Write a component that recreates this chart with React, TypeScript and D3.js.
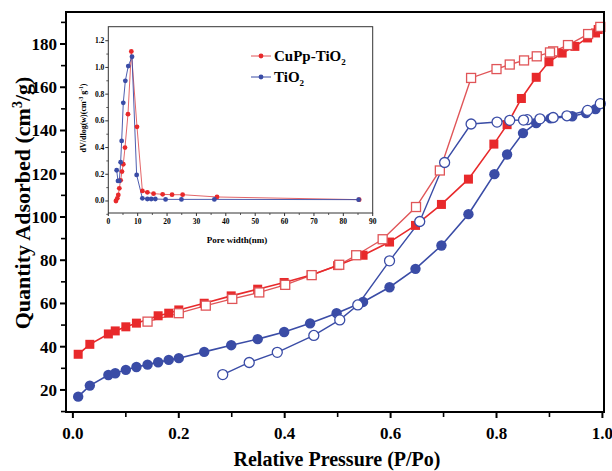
import React from 'react';
import * as d3 from 'd3';

// main isotherm data (P/Po, cm3/g)
const cuAdsX = [0.010, 0.032, 0.067, 0.080, 0.100, 0.120, 0.161, 0.181, 0.200, 0.248, 0.299, 0.349, 0.399, 0.450, 0.500, 0.548, 0.598, 0.647, 0.696, 0.747, 0.795, 0.820, 0.847, 0.875, 0.899, 0.924, 0.948, 0.972, 0.987, 0.992];
const cuAdsY = [36.5, 41.1, 45.9, 47.3, 49.2, 50.9, 54.3, 55.5, 57.0, 60.1, 63.5, 66.6, 69.7, 73.2, 77.5, 82.3, 88.4, 96.1, 105.8, 117.5, 133.7, 142.7, 154.8, 164.6, 171.8, 175.8, 178.9, 182.8, 185.1, 186.7];
const cuDesX = [0.996, 0.973, 0.935, 0.907, 0.901, 0.876, 0.852, 0.825, 0.800, 0.752, 0.693, 0.648, 0.585, 0.535, 0.503, 0.451, 0.401, 0.352, 0.301, 0.251, 0.200, 0.141];
const cuDesY = [187.9, 184.6, 179.5, 176.6, 176.1, 174.3, 172.4, 170.5, 168.4, 164.3, 121.5, 104.6, 89.7, 82.3, 77.9, 73.1, 68.6, 65.1, 62.1, 59.0, 55.5, 51.6];
const tiAdsX = [0.010, 0.032, 0.067, 0.080, 0.100, 0.120, 0.141, 0.161, 0.181, 0.200, 0.248, 0.299, 0.349, 0.399, 0.448, 0.498, 0.548, 0.598, 0.647, 0.696, 0.747, 0.796, 0.820, 0.850, 0.875, 0.902, 0.943, 0.969, 0.987];
const tiAdsY = [16.9, 22.0, 26.9, 27.7, 29.3, 30.6, 31.7, 32.8, 33.9, 34.7, 37.6, 40.7, 43.5, 46.8, 50.8, 55.5, 60.7, 67.5, 76.0, 86.8, 101.3, 119.8, 128.9, 138.8, 143.4, 145.6, 146.6, 148.1, 149.9];
const tiDesX = [0.996, 0.972, 0.933, 0.907, 0.882, 0.858, 0.851, 0.825, 0.801, 0.752, 0.702, 0.655, 0.598, 0.538, 0.504, 0.455, 0.386, 0.333, 0.283];
const tiDesY = [152.4, 149.3, 146.8, 146.0, 145.4, 145.0, 144.8, 144.7, 143.9, 143.0, 125.2, 97.9, 79.7, 59.3, 52.4, 45.2, 37.4, 32.7, 27.1];

// inset pore size distribution (nm, dV/dlog(w))
const cuPoreX = [2.6, 3.07, 3.4, 3.75, 4.2, 4.66, 5.1, 5.68, 6.7, 7.84, 9.77, 11.6, 13.3, 15.4, 18.5, 21.7, 25.3, 37.0, 85.4];
const cuPoreY = [0.0, 0.02, 0.045, 0.095, 0.155, 0.22, 0.275, 0.40, 0.65, 1.12, 0.555, 0.075, 0.065, 0.055, 0.05, 0.047, 0.047, 0.03, 0.01];
const tiPoreX = [2.85, 3.3, 3.75, 4.2, 4.55, 5.1, 5.8, 6.8, 8.07, 9.65, 11.6, 13.3, 14.6, 16.0, 19.5, 24.9, 36.1, 85.2];
const tiPoreY = [0.23, 0.15, 0.15, 0.29, 0.45, 0.735, 0.90, 1.01, 1.08, 0.195, 0.02, 0.015, 0.015, 0.015, 0.012, 0.012, 0.012, 0.01];

const xTicks = [0, 0.2, 0.4, 0.6, 0.8, 1.0];
const xMinor = [0.1, 0.3, 0.5, 0.7, 0.9];
const yTicks = [20, 40, 60, 80, 100, 120, 140, 160, 180];
const yMinor = [10, 30, 50, 70, 90, 110, 130, 150, 170, 190];
const inXTicks = [0, 10, 20, 30, 40, 50, 60, 70, 80, 90];
const inXMinor = [5, 15, 25, 35, 45, 55, 65, 75, 85];
const inYTicks = [0, 0.2, 0.4, 0.6, 0.8, 1.0, 1.2];
const inYMinor = [-0.1, 0.1, 0.3, 0.5, 0.7, 0.9, 1.1];

const RED = '#e8292b';
const RED_OPEN = '#e05558';
const BLUE = '#3a4ca6';
const FONT = '"Liberation Serif", "Times New Roman", serif';

const zip = (xs: number[], ys: number[]) => xs.map((x, i) => [x, ys[i]] as [number, number]);

export default function App() {
  const L = 66, R = 604, T = 12, B = 412;
  const x = d3.scaleLinear().domain([-0.013, 1.003]).range([L, R]);
  const y = d3.scaleLinear().domain([9.8, 194.8]).range([B, T]);
  const line = d3.line<[number, number]>().x(d => x(d[0])).y(d => y(d[1]));

  const iL = 108.3, iR = 372.7, iT = 26.7, iB = 213;
  const ix = d3.scaleLinear().domain([0, 90]).range([iL, iR]);
  const iy = d3.scaleLinear().domain([-0.09, 1.305]).range([iB, iT]);
  const iline = d3.line<[number, number]>().x(d => ix(d[0])).y(d => iy(d[1]));

  const cuAds = zip(cuAdsX, cuAdsY);
  const cuDes = zip(cuDesX, cuDesY);
  const tiAds = zip(tiAdsX, tiAdsY);
  const tiDes = zip(tiDesX, tiDesY);
  const cuPore = zip(cuPoreX, cuPoreY);
  const tiPore = zip(tiPoreX, tiPoreY);
  const s = 9;

  return (
    <svg width={612} height={471} style={{ position: 'absolute', left: 0, top: 0, background: '#fff' }} fontFamily={FONT}>
      <rect x={0} y={0} width={612} height={471} fill="#fff" />

      {/* lines */}
      <path d={line(cuDes) || ''} fill="none" stroke={RED_OPEN} strokeWidth={1.4} />
      <path d={line(cuAds) || ''} fill="none" stroke={RED} strokeWidth={1.6} />
      <path d={line(tiDes) || ''} fill="none" stroke={BLUE} strokeWidth={1.4} />
      <path d={line(tiAds) || ''} fill="none" stroke={BLUE} strokeWidth={1.6} />

      {/* markers */}
      {cuAds.map((d, i) => (
        <rect key={'ca' + i} x={x(d[0]) - s / 2} y={y(d[1]) - s / 2} width={s} height={s} fill={RED} />
      ))}
      {cuDes.map((d, i) => (
        <rect key={'cd' + i} x={x(d[0]) - s / 2} y={y(d[1]) - s / 2} width={s} height={s} fill="#fff" stroke={RED_OPEN} strokeWidth={1.3} />
      ))}
      {tiAds.map((d, i) => (
        <circle key={'ta' + i} cx={x(d[0])} cy={y(d[1])} r={5.2} fill={BLUE} />
      ))}
      {tiDes.map((d, i) => (
        <circle key={'td' + i} cx={x(d[0])} cy={y(d[1])} r={5} fill="#fff" stroke={BLUE} strokeWidth={1.3} />
      ))}

      {/* main frame */}
      <rect x={L} y={T} width={R - L} height={B - T} fill="none" stroke="#000" strokeWidth={2} />
      {xTicks.map(t => (
        <g key={'xt' + t}>
          <line x1={x(t)} x2={x(t)} y1={B} y2={B + 6} stroke="#000" strokeWidth={2} />
          <text x={x(t)} y={B + 27} textAnchor="middle" fontSize={17} fontWeight="bold">{t.toFixed(1)}</text>
        </g>
      ))}
      {xMinor.map(t => (
        <line key={'xm' + t} x1={x(t)} x2={x(t)} y1={B} y2={B + 5} stroke="#000" strokeWidth={1.6} />
      ))}
      {yTicks.map(t => (
        <g key={'yt' + t}>
          <line x1={L - 6} x2={L} y1={y(t)} y2={y(t)} stroke="#000" strokeWidth={2} />
          <text x={L - 9} y={y(t) + 6} textAnchor="end" fontSize={17} fontWeight="bold">{t}</text>
        </g>
      ))}
      {yMinor.map(t => (
        <line key={'ym' + t} x1={L - 5} x2={L} y1={y(t)} y2={y(t)} stroke="#000" strokeWidth={1.6} />
      ))}
      <text x={337} y={466} textAnchor="middle" fontSize={20} fontWeight="bold">Relative Pressure (P/Po)</text>
      <text transform="translate(30,203) rotate(-90)" textAnchor="middle" fontSize={22} fontWeight="bold">
        Quantity Adsorbed (cm<tspan dy={-8} fontSize={14}>3</tspan><tspan dy={8}>/g)</tspan>
      </text>

      {/* inset */}
      <rect x={iL} y={iT} width={iR - iL} height={iB - iT} fill="#fff" stroke="#333" strokeWidth={1} />
      <path d={iline(cuPore) || ''} fill="none" stroke={RED_OPEN} strokeWidth={0.9} />
      <path d={iline(tiPore) || ''} fill="none" stroke={BLUE} strokeWidth={0.9} />
      {cuPore.map((d, i) => (
        <circle key={'cp' + i} cx={ix(d[0])} cy={iy(d[1])} r={2.4} fill={RED} />
      ))}
      {tiPore.map((d, i) => (
        <circle key={'tp' + i} cx={ix(d[0])} cy={iy(d[1])} r={2.4} fill={BLUE} />
      ))}
      {inXTicks.map(t => (
        <g key={'ixt' + t}>
          <line x1={ix(t)} x2={ix(t)} y1={iB} y2={iB + 3} stroke="#333" strokeWidth={1} />
          <text x={ix(t)} y={iB + 11} textAnchor="middle" fontSize={7.5} fontWeight="bold">{t}</text>
        </g>
      ))}
      {inXMinor.map(t => (
        <line key={'ixm' + t} x1={ix(t)} x2={ix(t)} y1={iB} y2={iB + 2} stroke="#333" strokeWidth={0.8} />
      ))}
      {inYTicks.map(t => (
        <g key={'iyt' + t}>
          <line x1={iL - 3} x2={iL} y1={iy(t)} y2={iy(t)} stroke="#333" strokeWidth={1} />
          <text x={iL - 4} y={iy(t) + 2.5} textAnchor="end" fontSize={7.5} fontWeight="bold">{t.toFixed(1)}</text>
        </g>
      ))}
      {inYMinor.map(t => (
        <line key={'iym' + t} x1={iL - 2} x2={iL} y1={iy(t)} y2={iy(t)} stroke="#333" strokeWidth={0.8} />
      ))}
      <text x={237} y={243} textAnchor="middle" fontSize={9} fontWeight="bold">Pore width(nm)</text>
      <text transform="translate(86,118) rotate(-90)" textAnchor="middle" fontSize={8} fontWeight="bold">
        dV/dlog(w)(cm<tspan dy={-3} fontSize={5.5}>-3</tspan><tspan dy={3}> g</tspan><tspan dy={-3} fontSize={5.5}>-1</tspan><tspan dy={3}>)</tspan>
      </text>

      {/* legend */}
      <line x1={251} x2={271} y1={56} y2={56} stroke={RED_OPEN} strokeWidth={1} />
      <circle cx={261} cy={56} r={2.4} fill={RED} />
      <text x={274} y={61} fontSize={15} fontWeight="bold">CuPp-TiO<tspan dy={4} fontSize={9}>2</tspan></text>
      <line x1={251} x2={271} y1={77} y2={77} stroke={BLUE} strokeWidth={1} />
      <circle cx={261} cy={77} r={2.4} fill={BLUE} />
      <text x={274} y={82} fontSize={15} fontWeight="bold">TiO<tspan dy={4} fontSize={9}>2</tspan></text>
    </svg>
  );
}
